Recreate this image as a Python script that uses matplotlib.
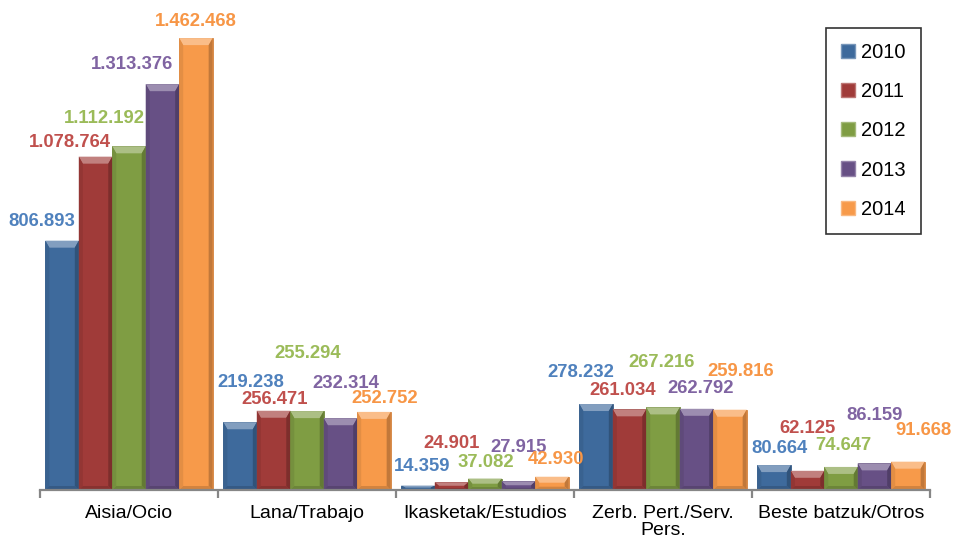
import matplotlib
matplotlib.use("Agg")
import matplotlib.pyplot as plt
from matplotlib.patches import Polygon, Patch
import numpy as np

categories = ["Aisia/Ocio", "Lana/Trabajo", "Ikasketak/Estudios",
              "Zerb. Pert./Serv.\nPers.", "Beste batzuk/Otros"]
years = ["2010", "2011", "2012", "2013", "2014"]
values = {
    "2010": [806893, 219238, 14359, 278232, 80664],
    "2011": [1078764, 256471, 24901, 261034, 62125],
    "2012": [1112192, 255294, 37082, 267216, 74647],
    "2013": [1313376, 232314, 27915, 262792, 86159],
    "2014": [1462468, 252752, 42930, 259816, 91668],
}
labels = {
    "2010": ["806.893", "219.238", "14.359", "278.232", "80.664"],
    "2011": ["1.078.764", "256.471", "24.901", "261.034", "62.125"],
    "2012": ["1.112.192", "255.294", "37.082", "267.216", "74.647"],
    "2013": ["1.313.376", "232.314", "27.915", "262.792", "86.159"],
    "2014": ["1.462.468", "252.752", "42.930", "259.816", "91.668"],
}

# styling / layout
bar_colors = ["#3E6A9C", "#A03B39", "#7F9D43", "#675085", "#F79A4A"]
label_colors = ["#4F81BD", "#C0504D", "#9BBB59", "#8064A2", "#F79646"]
# label offsets (pixels, dx, dy) relative to bar top centre
label_offsets = {
    "2010": [(-20, 19), (11, 40), (4, 19), (-15, 32), (5, 17)],
    "2011": [(-26, 14), (1, 11), (0, 39), (-7, 19), (0, 42)],
    "2012": [(-25, 28), (1, 58), (1, 16), (-1, 45), (2, 21)],
    "2013": [(-30, 20), (5, 35), (0, 34), (4, 20), (0, 48)],
    "2014": [(0, 17), (11, 13), (4, 17), (11, 38), (16, 31)],
}

W, H = 954, 540
fig = plt.figure(figsize=(W / 100, H / 100), dpi=100)
ax = fig.add_axes([40 / W, 50 / H, 890 / W, (490 - 26.5) / H])
ax.set_xlim(-0.5, len(categories) - 0.5)
ax.set_ylim(0, 1500000)

x = np.arange(len(categories))
bw = 0.188
label_font = "Liberation Sans"


def lighten(c, f):
    c = np.array(matplotlib.colors.to_rgb(c))
    return tuple(c + (1 - c) * f)


def darken(c, f):
    c = np.array(matplotlib.colors.to_rgb(c))
    return tuple(c * (1 - f))


px_x = 1.0 / 178.0           # data units per pixel (x)
px_y = 1500000 / 463.5      # data units per pixel (y)

for j, yr in enumerate(years):
    col = bar_colors[j]
    bars = ax.bar(x + (j - 2) * bw, values[yr], width=bw, color=col,
                  edgecolor=darken(col, 0.15), linewidth=0.6, zorder=2,
                  label=yr)
    for k, b in enumerate(bars):
        x0, w, h = b.get_x(), b.get_width(), b.get_height()
        bx = 4 * px_x
        by = min(7 * px_y, h * 0.45)
        bs = min(4 * px_y, h * 0.25)
        # top bevel (light)
        ax.add_patch(Polygon([(x0, h), (x0 + w, h), (x0 + w - bx, h - by), (x0 + bx, h - by)],
                             closed=True, color=lighten(col, 0.35), lw=0, zorder=3))
        # left bevel
        ax.add_patch(Polygon([(x0, h), (x0 + bx, h - by), (x0 + bx, bs), (x0, 0)],
                             closed=True, color=darken(col, 0.08), lw=0, zorder=3))
        # right bevel (dark)
        ax.add_patch(Polygon([(x0 + w, h), (x0 + w - bx, h - by), (x0 + w - bx, bs), (x0 + w, 0)],
                             closed=True, color=darken(col, 0.22), lw=0, zorder=3))
        # bottom bevel
        ax.add_patch(Polygon([(x0, 0), (x0 + w, 0), (x0 + w - bx, bs), (x0 + bx, bs)],
                             closed=True, color=darken(col, 0.15), lw=0, zorder=3))
        dx, dy = label_offsets[yr][k]
        ax.annotate(labels[yr][k], (x0 + w / 2, h), xytext=(dx * 0.72, dy * 0.72),
                    textcoords="offset points", ha="center", va="center",
                    color=label_colors[j], fontsize=13.3, fontweight="bold",
                    family=label_font, zorder=5)

for s in ["top", "right", "left"]:
    ax.spines[s].set_visible(False)
ax.spines["bottom"].set_color("#868686")
ax.spines["bottom"].set_linewidth(1.6)
ax.spines["bottom"].set_zorder(6)
ax.set_yticks([])
ax.set_xticks(x)
ax.set_xticklabels(categories, fontsize=14, family="Liberation Sans", linespacing=1.0)
ax.tick_params(axis="x", which="major", length=0, pad=11)
ax.set_xticks(np.arange(-0.5, len(categories), 1.0), minor=True)
ax.tick_params(axis="x", which="minor", length=6, width=1.6, color="#868686", direction="out")

handles = [Patch(facecolor=bar_colors[j], edgecolor=lighten(bar_colors[j], 0.3), label=yr)
           for j, yr in enumerate(years)]
leg = fig.legend(handles=handles, loc="upper left",
                 bbox_to_anchor=(826 / W, 1 - 28 / H), frameon=True,
                 prop={"family": "Liberation Sans", "size": 14.5},
                 handlelength=0.7, handleheight=0.7, handletextpad=0.3,
                 labelspacing=1.0, borderpad=0.75, borderaxespad=0,
                 fancybox=False, edgecolor="black")
leg.get_frame().set_linewidth(1.2)

fig.savefig("out.png", dpi=100)
